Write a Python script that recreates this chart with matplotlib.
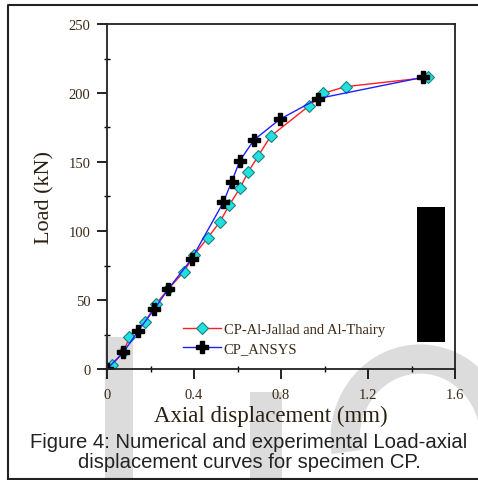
import matplotlib
matplotlib.use('Agg')
import matplotlib.pyplot as plt
from matplotlib.patches import Rectangle, Arc

# experimental curve (Al-Jallad and Al-Thairy)
exp_disp = [0.0, 0.022, 0.075, 0.103, 0.175, 0.225, 0.282, 0.354, 0.40, 0.463,
            0.52, 0.562, 0.611, 0.65, 0.696, 0.752, 0.93, 0.995, 1.097, 1.477]
exp_load = [0.0, 3, 12, 23, 34, 47, 58, 70.5, 82.6, 95,
            106.8, 118.8, 131, 143, 154.6, 168.6, 190.8, 199.8, 204.6, 211.3]

# numerical curve (ANSYS)
fe_disp = [0.0, 0.075, 0.144, 0.218, 0.282, 0.389, 0.535, 0.573, 0.611, 0.676,
           0.795, 0.971, 1.451]
fe_load = [0.0, 12, 27.8, 43.5, 58, 79.7, 120.8, 135.7, 151, 166,
           181, 196, 211.3]

xticks = [0, 0.4, 0.8, 1.2, 1.6]
xticklabels = ['0', '0.4', '0.8', '1.2', '1.6']
yticks = [0, 50, 100, 150, 200, 250]

W, H = 478, 481
fig = plt.figure(figsize=(W / 100.0, H / 100.0), dpi=100)

# background watermark bits and page frame (figure pixel coords)
bg = fig.add_axes([0, 0, 1, 1])
bg.set_xlim(0, W)
bg.set_ylim(H, 0)
bg.axis('off')
bg.add_patch(Rectangle((105, 338), 28, 143, color='#dcdcdc', lw=0))
bg.add_patch(Rectangle((250, 393), 32, 88, color='#dcdcdc', lw=0))
bg.add_patch(Arc((420, 440), 150, 160, theta1=170, theta2=375,
                 color='#dcdcdc', lw=21))
bg.plot([8, 8, 478], [481, 6, 6], color='#222222', lw=1.5)
bg.plot([8, 478], [480, 480], color='#222222', lw=1.5)

ax = fig.add_axes([107.0 / W, 1 - 370.0 / H, 348.0 / W, 345.0 / H])
ax.patch.set_alpha(0)

ax.plot(exp_disp, exp_load, color='#ff2020', lw=1.0, marker='D', ms=6,
        mfc='#20e0e0', mec='#208080', mew=0.8, label='CP-Al-Jallad and Al-Thairy')
ax.plot(fe_disp, fe_load, color='#2020ff', lw=1.0, marker='P', ms=9,
        mfc='black', mec='black', label='CP_ANSYS')

ax.set_xlim(0, 1.6)
ax.set_ylim(0, 250)
ax.set_xticks(xticks)
ax.set_xticklabels(xticklabels)
ax.set_xticks([0.2, 0.6, 1.0, 1.4], minor=True)
ax.set_yticks(yticks)
ax.set_yticks([25, 75, 125, 175, 225], minor=True)
ax.tick_params(which='major', direction='out', length=7, width=1.2, labelsize=10.5,
               labelcolor='#3a2a18')
ax.tick_params(axis='x', which='major', pad=7)
ax.tick_params(axis='y', which='major', pad=5)
ax.tick_params(which='minor', direction='inout', length=5, width=1.0)
for lab in ax.get_xticklabels() + ax.get_yticklabels():
    lab.set_family('Liberation Serif')
for s in ax.spines.values():
    s.set_linewidth(1.3)
    s.set_color('#222222')

ax.set_xlabel('Axial displacement (mm)', family='Liberation Serif', fontsize=16.5,
              color='#2a2010', labelpad=2)
ax.xaxis.set_label_coords(0.47, -0.105)
ax.set_ylabel('Load (kN)', family='Liberation Serif', fontsize=16,
              color='#2a2010', labelpad=10)

ax.legend(loc='center left', bbox_to_anchor=(0.218, 0.087), frameon=False,
          borderpad=0, borderaxespad=0,
          prop={'family': 'Liberation Serif', 'size': 10.5}, handlelength=2.6,
          handletextpad=0.2, labelspacing=0.35, labelcolor='#3a2a18')

# dark block at right of the plot area
bg.add_patch(Rectangle((417, 208), 28, 135, color='black', lw=0, zorder=5))

fig.text(0.521, 1 - 442.0 / H, 'Figure 4: Numerical and experimental Load-axial',
         ha='center', va='center', fontsize=14.6, family='Liberation Sans', color='#222222')
fig.text(0.521, 1 - 462.0 / H, 'displacement curves for specimen CP.',
         ha='center', va='center', fontsize=14.6, family='Liberation Sans', color='#222222')

fig.savefig('out.png', dpi=100)
